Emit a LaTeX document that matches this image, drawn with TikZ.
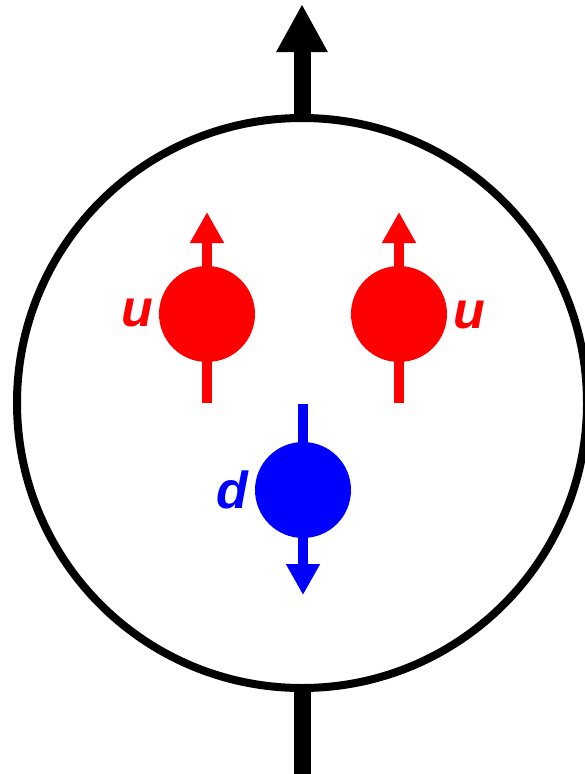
\documentclass[tikz,border=0pt]{standalone}
\usepackage{fontspec}
\setmainfont{Liberation Sans}
\usetikzlibrary{arrows.meta,positioning}

\tikzset{
    nucleon/.style={circle, draw=black, line width=8pt, inner sep=0pt, minimum size=570pt},
    quark/.style={circle, inner sep=0pt, minimum size=96pt},
    spin/.style={line width=10pt, -{Triangle[width=32pt,length=31pt]}},
    axis/.style={line width=17pt, -{Triangle[width=48pt,length=48pt]}},
    flavour/.style={inner sep=0pt, font=\fontsize{52}{52}\selectfont\bfseries\itshape}
}

\begin{document}
\begin{tikzpicture}[x=1pt, y=-1pt]
        \useasboundingbox (0,0) rectangle (584,774);
        % proton
        \node[nucleon] (proton) at (302,403) {};
        \coordinate (axistip) at (302,4);
        \coordinate (axisfoot) at (302,780);
        \draw[axis] (proton.north) -- (axistip);
        \draw[line width=17pt] (proton.south) -- (axisfoot);

        % up quarks
        \coordinate (uLtail) at (207,403);
        \coordinate (uLtip) at (207,212);
        \coordinate (uRtail) at (399,403);
        \coordinate (uRtip) at (399,212);
        \draw[spin, red] (uLtail) -- (uLtip);
        \draw[spin, red] (uRtail) -- (uRtip);
        \node[quark, fill=red] (uL) at (207,314) {};
        \node[quark, fill=red] (uR) at (399,314) {};
        \node[flavour, text=red] (uLlabel) at (137,313) {u};
        \node[flavour, text=red] (uRlabel) at (469,315) {u};

        % down quark
        \coordinate (dtail) at (303,404);
        \coordinate (dtip) at (303,595);
        \draw[spin, blue] (dtail) -- (dtip);
        \node[quark, fill=blue] (d) at (303,490) {};
        \node[flavour, text=blue] (dlabel) at (232,490) {d};
    \end{tikzpicture}
\end{document}
